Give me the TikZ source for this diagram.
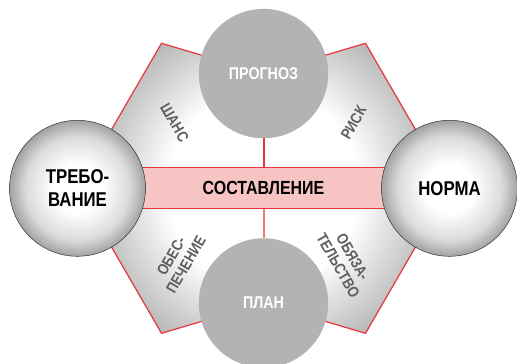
\documentclass[tikz,border=0pt]{standalone}
\usepackage{fontspec}
\setmainfont{Liberation Sans}[FakeStretch=0.84]
\usepackage{xcolor}
\definecolor{LineRed}{HTML}{E8343A}
\definecolor{BandPink}{HTML}{F7C4C4}
\definecolor{DiscGray}{HTML}{B3B3B3}
\definecolor{RimGray}{HTML}{A2A2A2}
\definecolor{LabelGray}{HTML}{5E5E5E}
\usetikzlibrary{positioning,calc,backgrounds}
\pgfdeclareradialshading{hexfade}{\pgfpoint{0bp}{0bp}}{color(0bp)=(white);color(12bp)=(white);color(25bp)=(RimGray);color(50bp)=(RimGray)}
\pgfdeclareradialshading{ballfade}{\pgfpoint{0bp}{0bp}}{color(0bp)=(white);color(9bp)=(white);color(19bp)=(black!14);color(25bp)=(RimGray);color(50bp)=(RimGray)}

\begin{document}
\begin{tikzpicture}[x=1pt,y=1pt,
ball/.style={circle,draw=black!80,line width=0.5pt,shading=ballfade,minimum size=136pt,font=\bfseries\fontsize{20}{23}\selectfont,align=center},
disc/.style={circle,fill=DiscGray,minimum size=129.4pt,text=white,font=\bfseries\fontsize{17}{20}\selectfont},
band/.style={draw=LineRed,line width=1pt,fill=BandPink,minimum width=371pt,minimum height=40.6pt,font=\bfseries\fontsize{19}{21}\selectfont},
seg/.style={text=LabelGray,font=\bfseries\fontsize{15.5}{17}\selectfont,align=center},
redline/.style={draw=LineRed,line width=1.2pt}]
\useasboundingbox (0,0) rectangle (517,364);
\node[band] (comp) at (263.5,175.7) {СОСТАВЛЕНИЕ};
\node[ball] (treb) at (comp.west) {ТРЕБО-\\ВАНИЕ};
\node[ball] (norm) at (comp.east) {НОРМА};
\node[disc] (prog) at ($(comp)+(0,114.7)$) {ПРОГНОЗ};
\node[disc] (plan) at ($(comp)+(0,-114.7)$) {ПЛАН};
\coordinate (tl) at ($(prog)+(-102,30.3)$);
\coordinate (tr) at ($(prog)+(102,30.3)$);
\coordinate (bl) at ($(plan)+(-102,-30.3)$);
\coordinate (br) at ($(plan)+(102,-30.3)$);
\begin{scope}[on background layer]
\begin{scope}
\clip (treb.center)--(tl)--(prog.center)--(tr)--(norm.center)--(br)--(plan.center)--(bl)--cycle;
\shade[shading=hexfade] (comp) circle (200);
\end{scope}
\draw[redline] (treb.center)--(tl)--(prog.center)--(tr)--(norm.center)--(br)--(plan.center)--(bl)--cycle;
\end{scope}
% segment labels
\node[seg,rotate=-60] (shans) at ($(comp)+(-89,65.6)$) {ШАНС};
\node[seg,rotate=60] (risk) at ($(comp)+(90,65.6)$) {РИСК};
\node[seg,rotate=60] (obes) at ($(comp)+(-85,-72)$) {ОБЕС-\\ПЕЧЕНИЕ};
\node[seg,rotate=-60] (obyaz) at ($(comp)+(82,-73)$) {ОБЯЗА-\\ТЕЛЬСТВО};
\draw[redline,line width=2pt] (prog)--(comp);
\draw[redline,draw=LineRed!65,line width=2pt] (comp)--(plan);
\end{tikzpicture}
\end{document}
